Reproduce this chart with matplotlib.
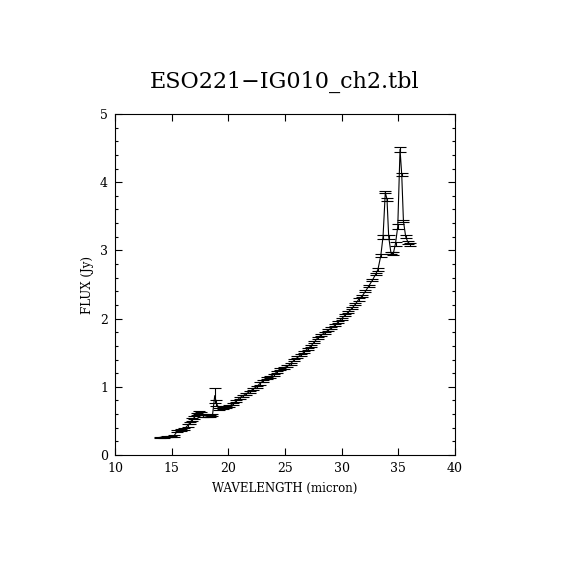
import matplotlib
matplotlib.use("Agg")
import matplotlib.pyplot as plt
from matplotlib.ticker import MultipleLocator

title = "ESO221\u2212IG010_ch2.tbl"

wavelength = [14.0, 14.3, 14.6, 14.9, 15.2, 15.5, 15.8, 16.1, 16.4, 16.6,
              16.8, 17.0, 17.2, 17.4, 17.6, 17.8, 18.1, 18.4, 18.6, 18.8,
              18.95, 19.2, 19.5, 19.8, 20.1, 20.4, 20.7, 21.0, 21.3, 21.6,
              21.9, 22.2, 22.5, 22.8, 23.1, 23.4, 23.7, 24.0, 24.3, 24.6,
              24.9, 25.2, 25.5, 25.8, 26.1, 26.4, 26.7, 27.0, 27.3, 27.6,
              27.9, 28.2, 28.5, 28.8, 29.1, 29.4, 29.7, 30.0, 30.3, 30.6,
              30.9, 31.2, 31.5, 31.8, 32.1, 32.4, 32.7, 33.0, 33.2, 33.45,
              33.65, 33.85, 34.0, 34.15, 34.35, 34.55, 34.75, 34.95, 35.15, 35.3,
              35.45, 35.65, 35.85, 36.05]

flux = [0.26, 0.26, 0.27, 0.27, 0.28, 0.35, 0.37, 0.38, 0.43, 0.47,
        0.52, 0.55, 0.60, 0.62, 0.61, 0.58, 0.57, 0.57, 0.58, 0.87,
        0.76, 0.67, 0.69, 0.70, 0.72, 0.75, 0.79, 0.84, 0.87, 0.90,
        0.93, 0.97, 1.00, 1.05, 1.09, 1.13, 1.15, 1.18, 1.22, 1.26,
        1.28, 1.30, 1.34, 1.39, 1.43, 1.47, 1.51, 1.56, 1.60, 1.66,
        1.72, 1.76, 1.79, 1.83, 1.86, 1.90, 1.95, 2.00, 2.05, 2.10,
        2.15, 2.21, 2.28, 2.33, 2.40, 2.48, 2.56, 2.65, 2.72, 2.92,
        3.20, 3.85, 3.75, 3.20, 2.96, 2.95, 3.10, 3.35, 4.48, 4.11,
        3.43, 3.20, 3.12, 3.09]

flux_err = [0.01, 0.01, 0.01, 0.01, 0.01, 0.015, 0.015, 0.015, 0.02, 0.02,
            0.02, 0.02, 0.02, 0.02, 0.02, 0.02, 0.015, 0.015, 0.015, 0.11,
            0.04, 0.015, 0.015, 0.015, 0.015, 0.015, 0.015, 0.015, 0.015, 0.015,
            0.015, 0.015, 0.015, 0.02, 0.015, 0.015, 0.015, 0.015, 0.015, 0.015,
            0.015, 0.015, 0.015, 0.015, 0.015, 0.015, 0.015, 0.015, 0.015, 0.015,
            0.015, 0.015, 0.015, 0.015, 0.015, 0.015, 0.015, 0.015, 0.015, 0.015,
            0.015, 0.015, 0.015, 0.015, 0.015, 0.015, 0.015, 0.015, 0.02, 0.02,
            0.03, 0.015, 0.02, 0.03, 0.02, 0.02, 0.03, 0.03, 0.04, 0.02,
            0.02, 0.02, 0.02, 0.02]

xticks = [10, 15, 20, 25, 30, 35, 40]
yticks = [0, 1, 2, 3, 4, 5]

serif = "DejaVu Serif"

fig = plt.figure(figsize=(5.7, 5.7), dpi=100)
ax = fig.add_axes([115 / 570, 115 / 570, 340 / 570, 341 / 570])

ax.plot(wavelength, flux, color="black", lw=0.8)
ax.errorbar(wavelength, flux, yerr=flux_err, fmt="none", ecolor="black",
            elinewidth=0.8, capsize=4.0, capthick=0.8)

ax.set_xlim(10, 40)
ax.set_ylim(0, 5)
ax.set_xticks(xticks)
ax.set_yticks(yticks)
ax.yaxis.set_minor_locator(MultipleLocator(0.2))
ax.tick_params(which="both", direction="in", top=True, right=True,
               width=0.8, labelsize=9)
ax.tick_params(which="major", length=5)
ax.tick_params(which="minor", length=2.5)
ax.tick_params(axis="x", pad=5)
ax.tick_params(axis="y", pad=5)
for lab in ax.get_xticklabels() + ax.get_yticklabels():
    lab.set_fontfamily(serif)
for s in ax.spines.values():
    s.set_linewidth(0.8)

ax.set_xlabel("WAVELENGTH (micron)", fontfamily=serif, fontsize=8.5, labelpad=5)
ax.set_ylabel("FLUX (Jy)", fontfamily=serif, fontsize=8.5, labelpad=4)
fig.text(285 / 570, 1 - 82 / 570, title, fontfamily=serif, fontsize=16,
         ha="center", va="center")

fig.savefig("out.png", dpi=100)
